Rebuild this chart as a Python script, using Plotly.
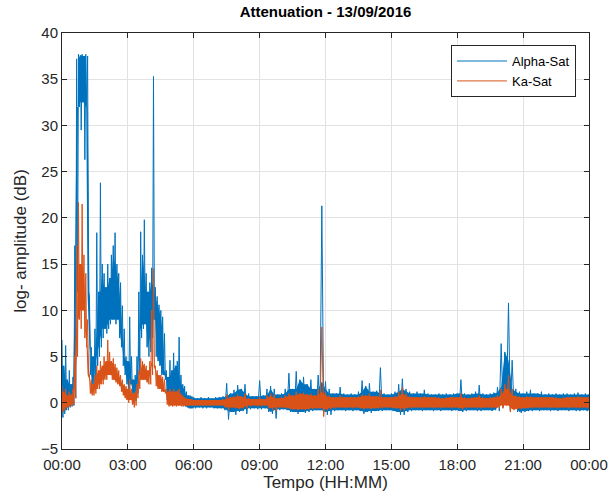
import plotly.graph_objects as go

# Sampling grid (minutes after 00:00): 5-min steps during the morning rain event, 10-min afterwards
minutes = list(range(0, 360, 5)) + list(range(360, 1441, 10))

# Alpha-Sat attenuation: upper and lower excursion in each sampling interval (dB)
alpha_hi = [
    6.8, 4.0, 6.2, 2.5, 3.5, 2.0, 2.8, 17.0, 37.2, 37.7, 37.6, 37.7,
    37.5, 37.7, 37.5, 11.5, 6.0, 5.0, 8.0, 18.4, 12.0, 23.8, 15.0, 14.0,
    12.5, 15.0, 13.5, 16.0, 17.0, 18.4, 15.0, 14.0, 13.0, 10.5, 8.0, 5.0,
    4.5, 9.3, 5.0, 2.5, 3.0, 5.0, 12.0, 18.5, 16.0, 19.8, 14.0, 12.0,
    13.0, 14.6, 35.3, 12.5, 11.5, 10.6, 10.0, 9.3, 7.5, 3.5, 2.8, 4.6,
    3.5, 5.4, 4.0, 4.5, 7.1, 3.0, 2.0, 1.8, 1.2, 0.8, 0.8, 0.7,
    0.6, 0.5, 0.6, 0.5, 0.6, 0.5,
    0.6, 0.6, 0.7, 2.1, 1.0, 1.4,
    1.9, 1.5, 2.0, 1.0, 0.7, 0.7,
    2.4, 0.8, 1.5, 1.8, 1.5, 0.9,
    1.0, 1.5, 3.2, 1.5, 3.4, 2.5,
    2.8, 2.0, 2.5, 1.5, 3.0, 21.3,
    2.3, 1.5, 1.0, 1.0, 1.7, 1.0,
    0.9, 1.0, 0.9, 1.2, 2.4, 1.8,
    2.1, 1.2, 1.3, 3.8, 1.0, 0.9,
    1.0, 1.2, 2.0, 2.6, 1.5, 1.2,
    1.0, 1.2, 1.0, 1.4, 1.0, 0.9,
    0.9, 1.0, 0.9, 1.0, 0.9, 1.0,
    1.0, 2.5, 1.0, 0.9, 1.0, 1.2,
    1.9, 1.0, 0.9, 1.0, 1.1, 1.7,
    6.4, 5.5, 10.8, 4.6, 1.5, 1.2,
    1.0, 1.2, 1.4, 1.0, 1.0, 1.2,
    0.9, 1.0, 0.9, 1.0, 0.9, 1.0,
    1.0, 0.9, 1.0, 1.1, 0.9, 1.0,
    0.9,
]
alpha_lo = [
    -1.6, -1.2, -0.8, -0.8, -0.5, -0.4, -0.3, 0.5, 12.0, 32.0, 29.5, 32.5,
    26.3, 32.0, 12.0, 3.0, 2.0, 1.5, 1.8, 4.0, 5.0, 6.0, 7.0, 8.0,
    7.5, 8.0, 8.5, 9.0, 9.0, 8.5, 9.0, 7.0, 6.0, 4.0, 3.0, 2.0,
    1.5, 2.0, 1.0, 0.0, 0.2, 1.0, 3.0, 7.0, 8.0, 8.5, 6.0, 5.0,
    5.5, 7.0, 9.0, 5.0, 4.5, 4.0, 3.0, 3.0, 2.5, 0.3, 0.0, 0.5,
    0.2, 0.4, 0.2, 0.3, 0.4, 0.0, -0.3, -0.4, -0.5, -0.6, -0.6, -0.6,
    -0.6, -0.5, -0.6, -0.6, -0.5, -0.6,
    -0.6, -0.6, -0.8, -1.8, -1.0, -1.3,
    -1.0, -0.9, -1.2, -0.7, -0.6, -0.7,
    -0.7, -0.6, -1.0, -1.2, -1.7, -0.8,
    -0.7, -0.8, -1.0, -1.0, -1.2, -1.0,
    -1.1, -1.0, -0.9, -0.8, -0.8, -1.0,
    -1.3, -1.3, -0.9, -0.8, -0.8, -0.9,
    -0.8, -0.9, -0.8, -0.9, -1.2, -1.0,
    -1.1, -0.9, -0.9, -0.9, -0.8, -0.8,
    -0.9, -1.0, -1.3, -1.3, -1.0, -0.9,
    -0.8, -0.8, -0.9, -0.8, -0.8, -0.9,
    -0.8, -0.9, -0.8, -0.8, -0.9, -0.8,
    -0.9, -1.0, -0.9, -0.8, -0.8, -0.9,
    -0.9, -0.8, -0.8, -0.9, -0.8, -0.9,
    -0.5, 0.5, -0.8, -0.5, -1.0, -1.1,
    -1.0, -0.9, -0.9, -0.8, -0.9, -0.8,
    -0.8, -0.9, -0.8, -0.9, -0.8, -0.8,
    -0.9, -0.8, -0.9, -0.9, -0.8, -0.9,
    -0.8,
]

# Ka-Sat attenuation: upper and lower excursion in each sampling interval (dB)
ka_hi = [
    1.8, 1.2, 1.5, 0.8, 1.2, 0.9, 1.5, 5.0, 17.0, 21.7, 15.0, 21.5,
    16.0, 14.0, 9.0, 3.0, 2.5, 2.0, 3.0, 4.0, 3.5, 4.5, 4.0, 5.0,
    4.5, 6.8, 5.5, 4.5, 4.8, 4.2, 3.8, 3.5, 3.0, 2.5, 2.0, 1.8,
    1.5, 2.5, 1.5, 1.0, 1.2, 2.0, 3.5, 4.8, 4.5, 4.2, 4.0, 3.5,
    4.5, 10.0, 14.5, 4.0, 3.5, 3.0, 3.0, 2.8, 2.5, 1.5, 1.2, 1.5,
    1.2, 1.5, 1.2, 1.3, 1.5, 1.0, 0.8, 0.6, 0.5, 0.4, 0.4, 0.4,
    0.3, 0.3, 0.3, 0.3, 0.3, 0.3,
    0.3, 0.3, 0.4, 0.9, 0.6, 0.7,
    0.9, 0.7, 1.0, 0.5, 0.4, 0.4,
    0.6, 0.4, 0.8, 1.0, 0.9, 0.5,
    0.6, 0.8, 1.0, 0.8, 1.2, 1.0,
    1.1, 0.9, 1.0, 0.8, 1.5, 8.2,
    1.2, 0.8, 0.6, 0.6, 0.8, 0.6,
    0.6, 0.6, 0.6, 0.7, 0.9, 0.8,
    1.0, 0.7, 0.7, 1.4, 0.6, 0.6,
    0.6, 0.7, 1.2, 1.7, 1.0, 0.7,
    0.6, 0.6, 0.6, 0.7, 0.6, 0.6,
    0.6, 0.6, 0.5, 0.6, 0.6, 0.6,
    0.6, 1.0, 0.6, 0.5, 0.6, 0.6,
    0.8, 0.6, 0.5, 0.6, 0.6, 0.8,
    1.5, 2.0, 3.0, 1.5, 0.8, 0.7,
    0.6, 0.7, 0.7, 0.6, 0.6, 0.6,
    0.6, 0.6, 0.6, 0.6, 0.5, 0.6,
    0.6, 0.6, 0.6, 0.7, 0.6, 0.6,
    0.6,
]
ka_lo = [
    -1.0, -0.8, -0.6, -0.5, -0.4, -0.3, -0.2, 0.5, 5.0, 9.0, 8.0, 10.0,
    7.0, 6.0, 3.0, 1.0, 0.8, 0.8, 1.0, 1.5, 1.5, 2.0, 2.0, 2.5,
    2.5, 3.0, 3.0, 2.5, 2.5, 2.2, 2.0, 1.8, 1.2, 0.8, 0.5, 0.3,
    0.0, 0.3, -0.2, -0.5, -0.3, 0.5, 1.5, 2.5, 2.5, 2.5, 2.2, 2.0,
    2.0, 3.0, 4.0, 1.8, 1.5, 1.5, 1.2, 1.2, 1.0, -0.2, -0.4, -0.3,
    -0.4, -0.3, -0.4, -0.3, -0.3, -0.4, -0.4, -0.3, -0.3, -0.3, -0.3, -0.3,
    -0.3, -0.3, -0.3, -0.3, -0.3, -0.3,
    -0.3, -0.3, -0.5, -0.8, -0.5, -0.6,
    -0.7, -0.6, -0.6, -0.4, -0.3, -0.4,
    -0.4, -0.3, -0.6, -0.8, -0.9, -0.5,
    -0.5, -0.6, -0.7, -0.7, -0.8, -0.7,
    -0.8, -0.7, -0.7, -0.6, -0.6, -1.5,
    -0.8, -0.7, -0.6, -0.5, -0.5, -0.6,
    -0.5, -0.6, -0.5, -0.6, -0.7, -0.6,
    -0.7, -0.6, -0.6, -0.6, -0.5, -0.5,
    -0.6, -0.6, -0.9, -0.8, -0.6, -0.6,
    -0.5, -0.5, -0.6, -0.5, -0.5, -0.6,
    -0.5, -0.6, -0.5, -0.5, -0.6, -0.5,
    -0.6, -0.7, -0.6, -0.5, -0.5, -0.6,
    -0.6, -0.5, -0.5, -0.6, -0.5, -0.6,
    -0.6, -0.3, -1.0, -0.8, -0.7, -0.7,
    -0.6, -0.6, -0.6, -0.5, -0.6, -0.5,
    -0.5, -0.6, -0.5, -0.6, -0.5, -0.5,
    -0.6, -0.5, -0.6, -0.6, -0.5, -0.6,
    -0.5,
]

series_names = ["Alpha-Sat", "Ka-Sat"]
series_colors = ["#0072BD", "#D95319"]

tick_hours = [0, 3, 6, 9, 12, 15, 18, 21, 24]
tick_labels = ["00:00", "03:00", "06:00", "09:00", "12:00", "15:00", "18:00", "21:00", "00:00"]
y_ticks = [-5, 0, 5, 10, 15, 20, 25, 30, 35, 40]


def trace_path(t, hi, lo):
    """Alternate the high and low excursion of every interval into one line (x in hours)."""
    xs, ys = [], []
    for i, ti in enumerate(t):
        nxt = t[i + 1] if i + 1 < len(t) else ti
        xs += [ti / 60.0, (ti + nxt) / 120.0]
        ys += [hi[i], lo[i]]
    return xs, ys


def band_outline(t, hi, lo):
    """Closed outline of the dense core of the signal: isolated spikes are left to the line.

    The core top of each interval is the lowest high excursion among it and its
    neighbours, the core bottom the highest low excursion.
    """
    n = len(t)
    top, bot = [], []
    for i in range(n):
        a, b = max(i - 1, 0), min(i + 1, n - 1)
        top.append(min(hi[a:b + 1]))
        bot.append(max(lo[a:b + 1]))
    xs = [ti / 60.0 for ti in t]
    return xs + xs[::-1], top + bot[::-1]


fig = go.Figure()
for name, color, hi, lo in zip(series_names, series_colors,
                               [alpha_hi, ka_hi], [alpha_lo, ka_lo]):
    bx, by = band_outline(minutes, hi, lo)
    fig.add_trace(go.Scatter(
        x=bx, y=by, mode="lines", fill="toself", fillcolor=color,
        line=dict(width=0, color=color),
        showlegend=False, hoverinfo="skip",
    ))
    x, y = trace_path(minutes, hi, lo)
    fig.add_trace(go.Scatter(
        x=x, y=y, mode="lines", name=name,
        line=dict(color=color, width=1),
        hoverinfo="skip",
    ))

axis_color = "#262626"
font_family = "Liberation Sans, Arial, Helvetica, sans-serif"

fig.update_layout(
    width=611, height=500,
    margin=dict(l=62, r=22, t=33, b=51),
    paper_bgcolor="white", plot_bgcolor="white",
    font=dict(family=font_family, color=axis_color, size=15),
    title=dict(
        text="<b>Attenuation - 13/09/2016</b>",
        x=(62 + 589) / 2 / 611, xanchor="center",
        y=1 - 12 / 500, yanchor="middle", yref="container",
        font=dict(size=15, color="#000000"),
    ),
    showlegend=True,
    legend=dict(
        x=0.9753, xanchor="right", y=0.971, yanchor="top",
        bgcolor="white", bordercolor=axis_color, borderwidth=1,
        font=dict(size=13, color="#000000"),
        itemwidth=50, tracegroupgap=0,
    ),
)

fig.update_xaxes(
    range=[0, 24], tickvals=tick_hours, ticktext=tick_labels,
    automargin=False,
    showgrid=True, gridcolor="#e2e2e2", gridwidth=1,
    showline=True, linecolor=axis_color, linewidth=1, mirror="ticks",
    ticks="inside", ticklen=5, tickcolor=axis_color,
    zeroline=False, ticklabelstandoff=2,
    title=dict(text="Tempo (HH:MM)", font=dict(size=17), standoff=2),
    tickfont=dict(size=15),
)
fig.update_yaxes(
    range=[-5, 40], tickvals=y_ticks,
    automargin=False,
    showgrid=True, gridcolor="#e2e2e2", gridwidth=1,
    showline=True, linecolor=axis_color, linewidth=1, mirror="ticks",
    ticks="inside", ticklen=5, tickcolor=axis_color,
    zeroline=False,
    title=dict(text="log- amplitude (dB)", font=dict(size=17), standoff=9),
    tickfont=dict(size=15),
)

fig.write_html("out.html")
